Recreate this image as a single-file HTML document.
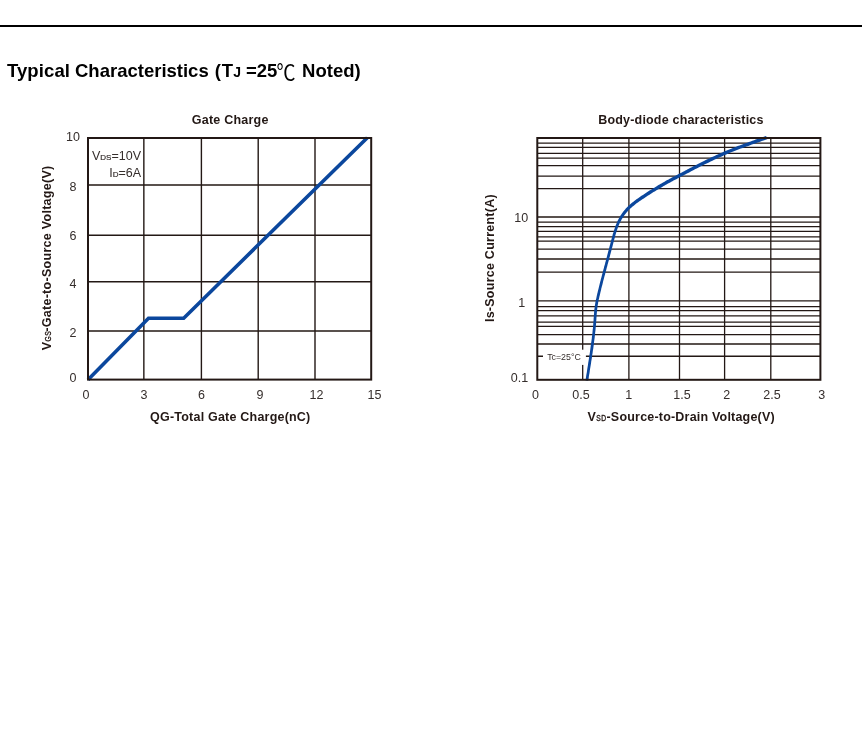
<!DOCTYPE html>
<html lang="en">
<head>
<meta charset="utf-8">
<title>Typical Characteristics</title>
<style>
html,body{margin:0;padding:0;background:#fff;}
body{width:862px;height:744px;overflow:hidden;position:relative;font-family:"Liberation Sans","Noto Sans CJK SC",sans-serif;}
svg{position:absolute;left:0;top:0;display:block;}
text{font-family:"Liberation Sans","Noto Sans CJK SC",sans-serif;}
.b{font-weight:bold;fill:#231815;}
.n{fill:#352e2c;}
.ttl{font-weight:bold;fill:#000;font-size:18.5px;}
</style>
</head>
<body>
<svg width="862" height="744" viewBox="0 0 862 744">
<rect x="0" y="0" width="862" height="744" fill="#fff"/>
<!-- top rule -->
<rect x="0" y="25" width="862" height="2" fill="#000"/>

<!-- heading -->
<text id="ttl" class="ttl" y="77.4"><tspan x="6.9" letter-spacing="0.12">Typical</tspan> <tspan x="75">Characteristics</tspan> <tspan x="214.7">(</tspan><tspan x="221.7">T</tspan><tspan x="233.3" font-size="14">J</tspan> <tspan x="246">=25</tspan></text>
<text class="ttl" style="font-weight:normal" transform="translate(276.5 80.1) scale(1.03 1.18)">℃</text>
<text class="ttl" x="302.1" y="77.4">Noted)</text>

<!-- ================= Chart 1 : Gate Charge ================= -->
<g id="c1">
<text class="b" font-size="12.5" x="230.2" y="123.8" text-anchor="middle" letter-spacing="0.22">Gate Charge</text>
<!-- grid -->
<g stroke="#231815" stroke-width="1.4" fill="none">
<path d="M143.85 138V379.6M201.4 138V379.6M258.2 138V379.6M315 138V379.6"/>
<path d="M88 185H371.2M88 235.3H371.2M88 281.7H371.2M88 331H371.2"/>
</g>
<!-- curve -->
<path d="M88 379.7L148.5 318.2L183.7 318.2L367.3 137.7" fill="none" stroke="#0b479d" stroke-width="3.6" stroke-linejoin="miter"/>
<!-- frame -->
<rect x="88" y="138" width="283.2" height="241.6" fill="none" stroke="#231815" stroke-width="2"/>
<!-- annotation -->
<text class="n" font-size="12.5" x="141" y="160.2" text-anchor="end">V<tspan font-size="8" stroke="#352e2c" stroke-width="0.2">DS</tspan>=10V</text>
<text class="n" font-size="12.5" x="141" y="176.8" text-anchor="end">I<tspan font-size="8" stroke="#352e2c" stroke-width="0.2">D</tspan>=6A</text>
<!-- y labels -->
<g class="n" font-size="12.5" text-anchor="middle">
<text x="73" y="140.9">10</text>
<text x="73" y="190.6">8</text>
<text x="73" y="240.3">6</text>
<text x="73" y="288">4</text>
<text x="73" y="336.5">2</text>
<text x="73" y="381.6">0</text>
</g>
<!-- x labels -->
<g class="n" font-size="12.5" text-anchor="middle">
<text x="86" y="399.3">0</text>
<text x="144" y="399.3">3</text>
<text x="201.6" y="399.3">6</text>
<text x="260" y="399.3">9</text>
<text x="316.4" y="399.3">12</text>
<text x="374.4" y="399.3">15</text>
</g>
<text class="b" font-size="12.5" x="230.3" y="420.5" text-anchor="middle" letter-spacing="0.21">QG-Total Gate Charge(nC)</text>
<g transform="translate(50.7 350.3) rotate(-90)">
<text class="b" font-size="12.5" x="0" y="0">V</text>
<text class="b" font-size="8.4" style="font-weight:normal" stroke="#231815" stroke-width="0.35" letter-spacing="0.5" transform="translate(8.9 0.1) scale(0.8 1)">GS</text>
<text id="y1" class="b" font-size="12.5" x="18.6" y="0" letter-spacing="0.285">-Gate-to-Source Voltage(V)</text>
</g>
</g>

<!-- ================= Chart 2 : Body diode ================= -->
<g id="c2">
<text class="b" font-size="12.5" x="680.9" y="124.1" text-anchor="middle" letter-spacing="0.19">Body-diode characteristics</text>
<g stroke="#231815" stroke-width="1.3" fill="none">
<path d="M582.7 138V379.8M628.9 138V379.8M679.5 138V379.8M724.6 138V379.8M770.8 138V379.8"/>
<path d="M537.3 143.2H820.4M537.3 147.4H820.4M537.3 153.3H820.4M537.3 158.2H820.4M537.3 165.6H820.4M537.3 176.1H820.4M537.3 188.6H820.4M537.3 217H820.4M537.3 222.1H820.4M537.3 226.55H820.4M537.3 231.35H820.4M537.3 236.9H820.4M537.3 241.2H820.4M537.3 249.15H820.4M537.3 259H820.4M537.3 272.05H820.4M537.3 300.8H820.4M537.3 306.6H820.4M537.3 310.7H820.4M537.3 315.85H820.4M537.3 322.1H820.4M537.3 326.4H820.4M537.3 334.6H820.4M537.3 344H820.4M537.3 356.25H820.4"/>
</g>
<rect x="543" y="349.7" width="42.9" height="15.2" fill="#fff"/>
<text class="n" font-size="8.8" x="547.2" y="359.85">Tc=25°C</text>
<path id="c2curve" d="M588.2 380.8L588.4 380.0L588.6 378.8L588.8 377.1L589.1 375.0L589.5 372.9L589.8 370.7L590.1 368.8L590.4 367.0L590.7 365.2L591.0 363.4L591.2 361.7L591.5 360.0L591.8 358.3L592.0 356.7L592.2 355.1L592.5 353.5L592.7 351.9L592.9 350.4L593.2 348.9L593.4 347.4L593.6 345.9L593.8 344.4L594.0 343.0L594.1 341.6L594.3 340.2L594.5 338.8L594.7 337.5L594.8 336.1L595.0 334.8L595.1 333.6L595.2 332.3L595.4 331.1L595.5 330.0L595.6 328.8L595.7 327.7L595.8 326.6L595.9 325.5L596.0 324.4L596.1 323.4L596.1 322.3L596.2 321.3L596.3 320.3L596.4 319.3L596.4 318.3L596.5 317.2L596.6 316.2L596.6 315.2L596.7 314.2L596.8 313.2L596.9 312.2L597.0 311.2L597.1 310.2L597.2 309.2L597.3 308.2L597.4 307.3L597.6 306.3L597.7 305.3L597.9 304.3L598.1 303.3L598.2 302.3L598.4 301.3L598.6 300.3L598.8 299.3L599.1 298.3L599.3 297.3L599.5 296.3L599.8 295.3L600.0 294.2L600.3 293.1L600.5 292.0L600.8 290.9L601.1 289.8L601.3 288.6L601.6 287.4L601.9 286.2L602.3 285.0L602.6 283.7L602.9 282.4L603.2 281.1L603.6 279.7L603.9 278.4L604.3 277.0L604.7 275.6L605.1 274.2L605.4 272.8L605.8 271.4L606.2 270.0L606.5 268.7L606.9 267.3L607.3 265.9L607.6 264.6L608.0 263.3L608.3 262.0L608.7 260.7L609.0 259.4L609.3 258.2L609.7 257.0L610.0 255.8L610.3 254.6L610.6 253.4L610.9 252.3L611.2 251.2L611.5 250.1L611.7 249.0L612.0 248.0L612.3 247.0L612.6 245.9L612.8 244.9L613.1 243.9L613.3 243.0L613.6 242.0L613.8 241.0L614.1 240.1L614.4 239.1L614.6 238.2L614.9 237.2L615.1 236.3L615.4 235.3L615.6 234.4L615.9 233.5L616.2 232.5L616.5 231.6L616.8 230.7L617.1 229.8L617.4 228.9L617.7 228.0L618.0 227.1L618.4 226.2L618.8 225.3L619.1 224.5L619.5 223.6L619.9 222.8L620.4 221.9L620.8 221.0L621.3 220.2L621.7 219.3L622.2 218.5L622.7 217.7L623.3 216.9L623.8 216.1L624.4 215.3L625.0 214.5L625.6 213.7L626.2 212.9L626.8 212.2L627.5 211.4L628.1 210.7L628.8 210.0L629.5 209.3L630.3 208.6L631.0 207.9L631.8 207.2L632.6 206.5L633.4 205.9L634.3 205.2L635.1 204.5L636.0 203.8L636.9 203.1L637.9 202.5L638.8 201.8L639.8 201.1L640.7 200.4L641.7 199.8L642.8 199.1L643.8 198.4L644.8 197.7L645.9 197.0L647.0 196.3L648.0 195.6L649.1 194.9L650.2 194.2L651.3 193.5L652.4 192.8L653.5 192.1L654.7 191.4L655.8 190.8L656.9 190.1L658.0 189.4L659.1 188.7L660.2 188.1L661.4 187.4L662.5 186.8L663.6 186.1L664.7 185.5L665.8 184.8L666.9 184.2L668.0 183.6L669.1 183.0L670.2 182.4L671.3 181.8L672.4 181.2L673.5 180.6L674.6 180.1L675.7 179.5L676.8 178.9L677.9 178.3L679.0 177.7L680.1 177.1L681.2 176.6L682.3 176.0L683.4 175.4L684.6 174.8L685.7 174.2L686.9 173.6L688.1 173.0L689.2 172.4L690.4 171.7L691.6 171.1L692.8 170.5L694.1 169.8L695.4 169.1L696.7 168.5L698.1 167.8L699.5 167.0L700.9 166.3L702.4 165.6L703.9 164.8L705.5 164.0L707.2 163.2L708.9 162.4L710.6 161.5L712.4 160.7L714.2 159.8L716.0 159.0L717.9 158.1L719.7 157.3L721.7 156.4L723.6 155.6L725.5 154.7L727.4 153.9L729.3 153.1L731.2 152.3L733.2 151.5L735.1 150.8L737.0 150.0L738.9 149.3L740.8 148.6L742.7 147.9L744.6 147.2L746.5 146.5L748.3 145.9L750.1 145.2L751.8 144.6L753.5 144.0L755.2 143.4L756.9 142.8L758.5 142.3L760.1 141.7L761.8 141.1L763.5 140.5L765.0 139.9L766.3 139.5L767.3 139.2L766.1 135.9L765.2 136.3L763.9 136.7L762.4 137.3L760.7 137.9L759.0 138.5L757.3 139.0L755.7 139.6L754.1 140.2L752.4 140.8L750.7 141.4L748.9 142.0L747.1 142.7L745.3 143.3L743.5 144.0L741.6 144.7L739.6 145.4L737.7 146.1L735.8 146.9L733.9 147.6L731.9 148.4L730.0 149.2L728.0 150.0L726.1 150.8L724.1 151.6L722.2 152.4L720.3 153.3L718.3 154.2L716.4 155.0L714.6 155.9L712.7 156.8L710.9 157.6L709.2 158.5L707.4 159.3L705.7 160.1L704.0 161.0L702.4 161.8L700.9 162.5L699.4 163.3L697.9 164.0L696.5 164.7L695.2 165.4L693.8 166.1L692.5 166.8L691.3 167.5L690.0 168.1L688.8 168.7L687.7 169.3L686.5 170.0L685.3 170.6L684.2 171.2L683.0 171.8L681.9 172.4L680.7 173.0L679.6 173.6L678.5 174.1L677.4 174.7L676.3 175.3L675.2 175.9L674.1 176.5L673.0 177.0L671.9 177.6L670.8 178.2L669.7 178.8L668.6 179.4L667.4 180.0L666.3 180.6L665.2 181.3L664.1 181.9L663.0 182.5L661.9 183.2L660.8 183.8L659.6 184.5L658.5 185.1L657.4 185.8L656.3 186.5L655.1 187.2L654.0 187.9L652.9 188.5L651.8 189.2L650.6 189.9L649.5 190.6L648.4 191.3L647.3 192.0L646.2 192.8L645.1 193.5L644.0 194.2L643.0 194.9L641.9 195.6L640.8 196.3L639.8 197.0L638.8 197.7L637.8 198.4L636.8 199.1L635.9 199.8L634.9 200.5L634.0 201.2L633.1 201.9L632.2 202.6L631.4 203.3L630.5 204.1L629.7 204.8L628.9 205.5L628.1 206.3L627.3 207.0L626.6 207.8L625.8 208.6L625.1 209.4L624.4 210.2L623.8 211.0L623.1 211.8L622.5 212.7L621.9 213.5L621.3 214.4L620.7 215.2L620.2 216.1L619.7 217.0L619.2 217.9L618.7 218.8L618.2 219.7L617.8 220.6L617.3 221.5L616.9 222.4L616.5 223.4L616.2 224.3L615.8 225.2L615.4 226.1L615.1 227.0L614.8 228.0L614.5 228.9L614.1 229.9L613.9 230.8L613.6 231.7L613.3 232.7L613.0 233.6L612.7 234.6L612.5 235.5L612.2 236.5L612.0 237.4L611.7 238.4L611.4 239.4L611.2 240.3L610.9 241.3L610.7 242.3L610.4 243.3L610.2 244.2L609.9 245.2L609.6 246.3L609.4 247.3L609.1 248.3L608.8 249.4L608.5 250.5L608.2 251.6L607.9 252.7L607.6 253.9L607.3 255.1L607.0 256.3L606.7 257.5L606.3 258.7L606.0 260.0L605.7 261.3L605.3 262.6L605.0 263.9L604.6 265.2L604.2 266.6L603.9 267.9L603.5 269.3L603.1 270.7L602.8 272.1L602.4 273.5L602.0 274.9L601.7 276.3L601.3 277.7L600.9 279.0L600.6 280.4L600.2 281.7L599.9 283.0L599.6 284.3L599.3 285.6L599.0 286.8L598.7 288.0L598.4 289.2L598.1 290.3L597.8 291.4L597.6 292.5L597.3 293.6L597.1 294.6L596.8 295.7L596.6 296.7L596.4 297.7L596.2 298.7L595.9 299.8L595.7 300.8L595.5 301.8L595.3 302.8L595.2 303.8L595.0 304.8L594.8 305.9L594.7 306.9L594.6 307.9L594.4 308.9L594.3 310.0L594.2 311.0L594.1 312.0L594.1 313.0L594.0 314.0L593.9 315.0L593.8 316.1L593.8 317.1L593.7 318.1L593.6 319.1L593.6 320.1L593.5 321.1L593.4 322.1L593.3 323.2L593.2 324.2L593.2 325.3L593.1 326.3L593.0 327.4L592.9 328.6L592.7 329.7L592.6 330.9L592.5 332.1L592.4 333.3L592.2 334.5L592.1 335.8L591.9 337.1L591.8 338.5L591.6 339.8L591.4 341.2L591.2 342.6L591.0 344.1L590.8 345.5L590.6 347.0L590.4 348.5L590.2 350.0L590.0 351.5L589.8 353.1L589.5 354.7L589.3 356.3L589.0 357.9L588.8 359.6L588.5 361.3L588.2 363.0L588.0 364.8L587.7 366.5L587.4 368.3L587.1 370.3L586.8 372.4L586.4 374.6L586.1 376.6L585.8 378.4L585.6 379.6L585.5 380.4Z" fill="#0b479d" stroke="none"/>
<rect x="537.3" y="138" width="283.1" height="241.8" fill="none" stroke="#231815" stroke-width="2"/>
<g class="n" font-size="12.5" text-anchor="middle">
<text x="521.3" y="222">10</text>
<text x="521.7" y="306.6">1</text>
<text x="519.5" y="382.2">0.1</text>
</g>
<g class="n" font-size="12.5" text-anchor="middle">
<text x="535.6" y="399.2">0</text>
<text x="581" y="399.2">0.5</text>
<text x="628.8" y="399.2">1</text>
<text x="682" y="399.2">1.5</text>
<text x="726.8" y="399.2">2</text>
<text x="772" y="399.2">2.5</text>
<text x="821.8" y="399.2">3</text>
</g>
<text class="b" font-size="12.5" x="587.4" y="420.5">V</text>
<text class="b" font-size="8.4" style="font-weight:normal" stroke="#231815" stroke-width="0.35" letter-spacing="0.5" transform="translate(596.3 420.6) scale(0.8 1)">SD</text>
<text class="b" font-size="12.5" x="606.5" y="420.5" letter-spacing="0.2">-Source-to-Drain Voltage(V)</text>
<text id="y2" class="b" font-size="12.5" text-anchor="middle" letter-spacing="0.25" transform="translate(494.3 258.1) rotate(-90)">Is-Source Current(A)</text>
</g>
</svg>
</body>
</html>
